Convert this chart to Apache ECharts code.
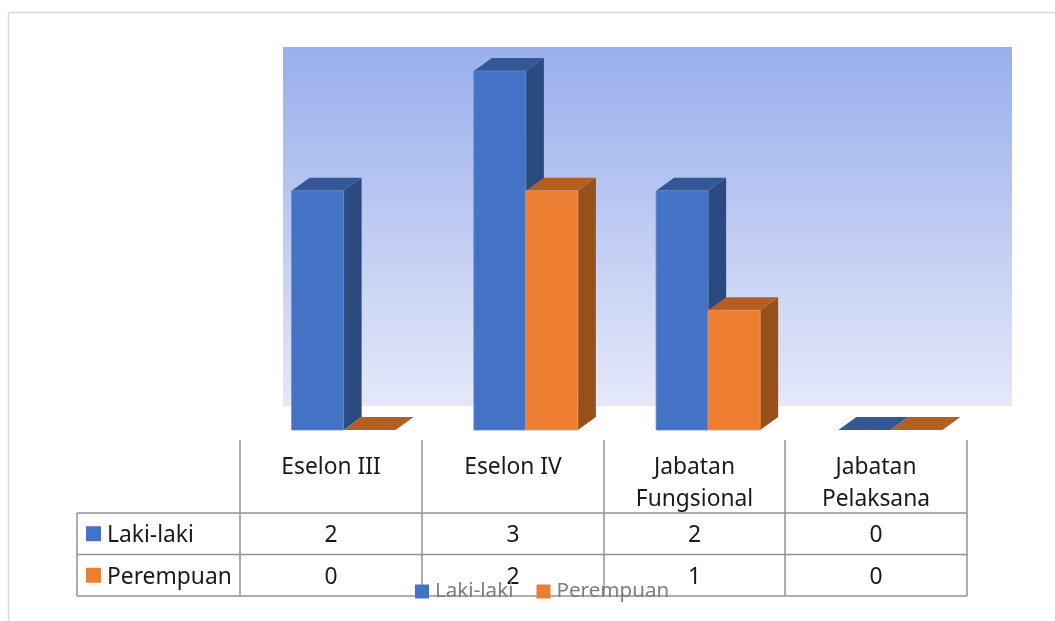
<!DOCTYPE html>
<html>
<head>
<meta charset="utf-8">
<style>html,body{margin:0;padding:0;background:#fff}#c{width:1055px;height:621px}</style>
<script src="https://cdn.jsdelivr.net/npm/echarts@6/dist/echarts.min.js"></script>
</head>
<body>
<div id="c"></div>
<script>
const categories = ['Eselon III', 'Eselon IV', 'Jabatan\nFungsional', 'Jabatan\nPelaksana'];
const lakiLaki = [2, 3, 2, 0];
const perempuan = [0, 2, 1, 0];
const seriesNames = ['Laki-laki', 'Perempuan'];

const FONT = '"Noto Sans", "Open Sans", sans-serif';
const colors = [
  {front: '#4472C4', top: '#335797', side: '#2A4A80', edge: '#5F86CC'},
  {front: '#ED7D31', top: '#B55E22', side: '#975019', edge: '#EE9A5E'}
];
const DX = 18, DY = 13, BAR = 52;

function barSeries(name, data, idx) {
  return {
    type: 'custom',
    name: name,
    itemStyle: {color: colors[idx].front},
    encode: {x: 0, y: 1},
    data: data.map((v, i) => [i, v]),
    z: 2 + idx,
    renderItem: function (params, api) {
      const p = api.coord([api.value(0), api.value(1)]);
      const base = api.coord([api.value(0), 0]);
      const x = p[0] - BAR + idx * BAR, y = p[1], r = x + BAR, b = base[1];
      const c = colors[idx];
      const kids = [];
      kids.push({type: 'polygon', shape: {points: [[r, y], [r + DX, y - DY], [r + DX, b - DY], [r, b]]},
        style: {fill: c.side}});
      kids.push({type: 'polygon', shape: {points: [[x, y], [x + DX, y - DY], [r + DX, y - DY], [r, y]]},
        style: {fill: c.top}});
      if (b > y) {
        kids.push({type: 'rect', shape: {x: x, y: y, width: BAR, height: b - y},
          style: {fill: c.front, stroke: c.edge, lineWidth: 0.8}});
      }
      return {type: 'group', children: kids};
    }
  };
}

// table geometry
const colX = [240, 422, 604, 785, 967];
const rowY = [513, 554.5, 596];
const lineStyle = {stroke: '#939393', lineWidth: 1.5};
const gfx = [];
function line(x1, y1, x2, y2) {
  gfx.push({type: 'line', silent: true, z: 1, shape: {x1, y1, x2, y2}, style: lineStyle});
}
function text(x, y, s, align, fill, lh) {
  gfx.push({type: 'text', silent: true, z: 1, x, y,
    style: {text: s, font: '22.8px ' + FONT, fill: fill || '#1a1a1a', align: align || 'center', verticalAlign: 'middle', lineHeight: lh || 32}});
}
// frame of the picture
gfx.push({type: 'line', silent: true, z: 0, shape: {x1: 8, y1: 12.5, x2: 1055, y2: 12.5}, style: {stroke: '#DADADA', lineWidth: 1.5}});
gfx.push({type: 'line', silent: true, z: 0, shape: {x1: 8.5, y1: 12, x2: 8.5, y2: 621}, style: {stroke: '#DADADA', lineWidth: 1.5}});
// wall
gfx.push({type: 'rect', silent: true, z: 0, shape: {x: 283, y: 47, width: 729, height: 359},
  style: {fill: {type: 'linear', x: 0, y: 0, x2: 0, y2: 1, colorStops: [
    {offset: 0, color: '#99AEEC'}, {offset: 1, color: '#E4E8F9'}]}}});
// table
colX.forEach(x => line(x, 440, x, rowY[2]));
rowY.forEach(y => line(77, y, colX[4], y));
line(77, rowY[0], 77, rowY[2]);
categories.forEach((c, i) => text((colX[i] + colX[i + 1]) / 2, c.includes('\n') ? 484 : 468, c));
[lakiLaki, perempuan].forEach((arr, r) => {
  const cy = (rowY[r] + rowY[r + 1]) / 2;
  gfx.push({type: 'rect', silent: true, z: 1, shape: {x: 86, y: cy - 7.5, width: 15, height: 15}, style: {fill: colors[r].front}});
  text(107, cy + 2, seriesNames[r], 'left');
  arr.forEach((v, i) => text((colX[i] + colX[i + 1]) / 2, cy + 2, String(v)));
});

const chart = echarts.init(document.getElementById('c'), null, {renderer: 'canvas'});
chart.setOption({
  animation: false,
  backgroundColor: '#fff',
  grid: {left: 252.5, width: 729, top: 71, height: 359},
  xAxis: {type: 'category', data: categories, show: false},
  yAxis: {type: 'value', min: 0, max: 3, interval: 1, show: false},
  legend: {
    left: 410, top: 576, itemWidth: 14, itemHeight: 14, itemGap: 23,
    icon: 'rect',
    textStyle: {color: '#7F7F7F', fontSize: 20.6, fontFamily: FONT, padding: [2, 0, 0, 1]},
    data: seriesNames
  },
  series: [barSeries(seriesNames[0], lakiLaki, 0), barSeries(seriesNames[1], perempuan, 1)],
  graphic: {elements: gfx}
});
</script>
</body>
</html>
